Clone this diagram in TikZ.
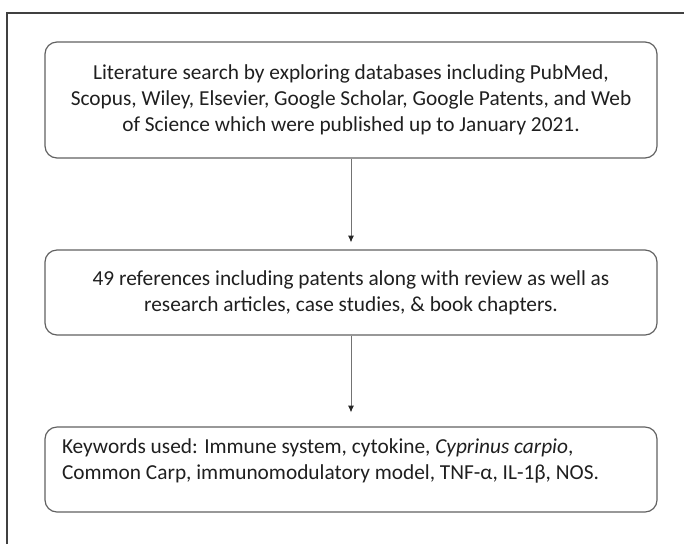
\documentclass[tikz,border=0pt]{standalone}
\usepackage{fontspec}
\setmainfont{Carlito}
\usetikzlibrary{arrows.meta}
\begin{document}
\begin{tikzpicture}[x=0.75pt, y=-0.75pt, every node/.style={draw=black!62, rounded corners=9pt, line width=0.9pt, text=black!88, font=\fontsize{16}{19.5}\selectfont, minimum width=459pt, inner xsep=12.75pt}, flecha/.style={draw=black!55, line width=0.7pt, -{Latex[length=5pt,width=4.5pt,color=black!85]}}]

     \useasboundingbox (0,0) rectangle (684,544);

     % Marco (solo arriba e izquierda)
     \draw[black!75, line width=1.1pt] (7,544) -- (7,13) -- (684,13);

     % Cajas del diagrama de flujo
     \node[align=center, minimum height=87pt] (busqueda) at (351,100) {Literature search by exploring databases including PubMed,\\ Scopus, Wiley, Elsevier, Google Scholar, Google Patents, and Web\\ of Science which were published up to January 2021.};
     \node[align=center, minimum height=63.75pt] (referencias) at (351,292.5) {49 references including patents along with review as well as\\ research articles, case studies, \& book chapters.};
     % texto un poco hacia arriba dentro de la caja
     \node[minimum height=63.75pt] (palabras) at (351,469.5) {\raisebox{6.5pt}[\height][\depth]{\parbox{433.5pt}{\raggedright Keywords used: Immune system, cytokine, \textit{Cyprinus carpio},\\ Common Carp, immunomodulatory model, TNF-α, IL-1β, NOS.}}};

     % Flechas entre cajas
     \draw[flecha, shorten >=5.25pt] (busqueda) -- (referencias);
     \draw[flecha, shorten >=10.5pt] (referencias) -- (palabras);

   \end{tikzpicture}
\end{document}
